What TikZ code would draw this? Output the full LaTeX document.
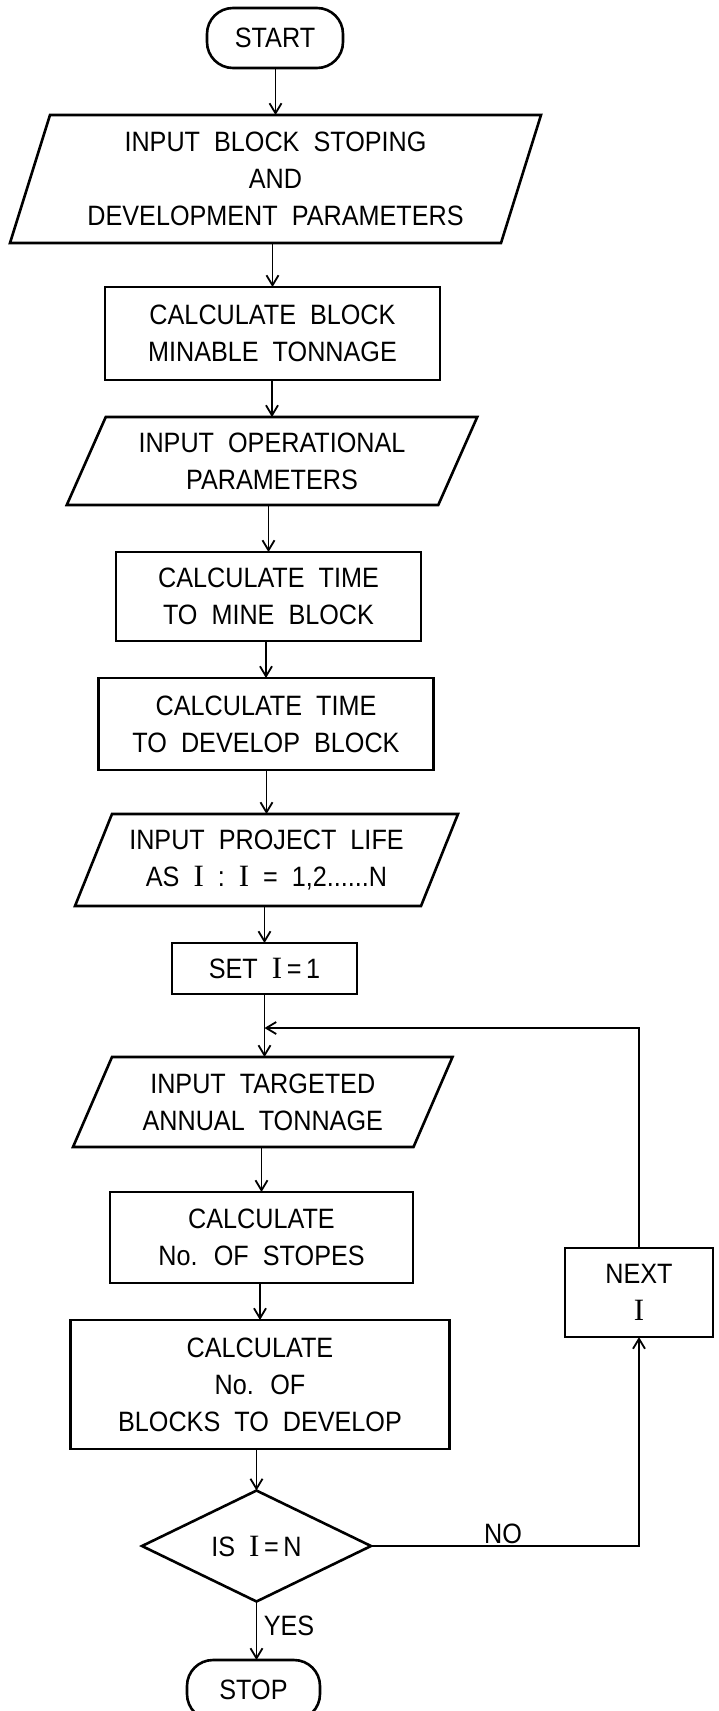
\documentclass[tikz,border=0pt]{standalone}
\usepackage{fontspec}
\setmainfont[FakeStretch=0.9,WordSpace=2]{Liberation Sans}
\newfontfamily\serifface{Liberation Serif}
\usetikzlibrary{arrows.meta,shapes.geometric}

% lettering used in every box
\newcommand\flowfont{\fontsize{28}{37}\selectfont}
% the loop index is lettered as a serifed capital I
\newcommand\romI{{\serifface\fontsize{31}{37}\selectfont I}}
% parallelogram round an input node: #1 node name, #2 half of the slant
\newcommand\ioframe[2]{%
  \draw[frame] ([xshift=#2]#1.north west) -- ([xshift=#2]#1.north east)
    -- ([xshift=-#2]#1.south east) -- ([xshift=-#2]#1.south west) -- cycle;}

\tikzset{
  frame/.style={draw, line width=2.6pt, line join=miter},
  procbox/.style={frame, rectangle, inner sep=0pt, outer sep=0pt,
    align=center, font=\flowfont},
  iobox/.style={rectangle, inner sep=0pt, outer sep=0pt,
    align=center, font=\flowfont},
  termbox/.style={procbox, rounded corners=26pt},
  decision/.style={frame, diamond, inner sep=0pt, outer sep=0pt,
    font=\flowfont},
  arr/.style={line width=1.8pt,
    -{Straight Barb[length=10pt,width=12pt]}},
  tag/.style={font=\flowfont, inner sep=0pt}
}

\begin{document}
\begin{tikzpicture}[x=1pt,y=-1pt]
  \fill[white] (0,0) rectangle (719,1711);
  \clip (0,0) rectangle (719,1711);

  % main column
  \node[termbox, minimum width=136, minimum height=60] (start) at (275,38) {START};

  \node[iobox, minimum width=491, minimum height=128] (inblock) at (275.5,179)
    {INPUT BLOCK STOPING\\AND\\DEVELOPMENT PARAMETERS};
  \ioframe{inblock}{20}

  \node[procbox, minimum width=335, minimum height=93] (tonnage) at (272.5,333.5)
    {CALCULATE BLOCK\\MINABLE TONNAGE};

  \node[iobox, minimum width=371.5, minimum height=88] (inoper) at (272,461)
    {INPUT OPERATIONAL\\PARAMETERS};
  \ioframe{inoper}{19.5}

  \node[procbox, minimum width=305, minimum height=89] (mine) at (268.5,596.5)
    {CALCULATE TIME\\TO MINE BLOCK};

  \node[procbox, minimum width=334.5, minimum height=92] (develop) at (266,724)
    {CALCULATE TIME\\TO DEVELOP BLOCK};

  \node[iobox, minimum width=346, minimum height=92] (inlife) at (266.5,860)
    {INPUT PROJECT LIFE\\AS \romI\ : \romI\ = 1,2......N};
  \ioframe{inlife}{18.5}

  \node[procbox, minimum width=185, minimum height=51] (setI) at (264.5,968.5)
    {SET \romI\,=\,1};

  \node[iobox, minimum width=340.5, minimum height=90] (intarget) at (262.75,1102)
    {INPUT TARGETED\\ANNUAL TONNAGE};
  \ioframe{intarget}{19.5}

  \node[procbox, minimum width=303, minimum height=91] (stopes) at (261.5,1237.5)
    {CALCULATE\\No. OF STOPES};

  \node[procbox, minimum width=378.5, minimum height=129] (blocks) at (260,1384.5)
    {CALCULATE\\No. OF\\BLOCKS TO DEVELOP};

  \node[decision, minimum width=229, minimum height=108] (test) at (256.5,1546)
    {IS \romI\,=\,N};

  \node[termbox, minimum width=133, minimum height=60] (stop) at (253.5,1690) {STOP};

  % loop box
  \node[procbox, minimum width=148, minimum height=89] (next) at (639,1292.5)
    {NEXT\\\romI};

  \coordinate (join) at (setI.south |- 0,1028);

  % connectors
  \draw[arr] (start.south -| inblock.north) -- (inblock.north);
  \draw[arr] (inblock.south -| tonnage.north) -- (tonnage.north);
  \draw[arr] (tonnage.south -| inoper.north) -- (inoper.north);
  \draw[arr] (inoper.south -| mine.north) -- (mine.north);
  \draw[arr] (mine.south -| develop.north) -- (develop.north);
  \draw[arr] (develop.south -| inlife.north) -- (inlife.north);
  \draw[arr] (inlife.south -| setI.north) -- (setI.north);
  \draw[arr] (setI.south) -- (setI.south |- intarget.north);
  \draw[arr] (intarget.south -| stopes.north) -- (stopes.north);
  \draw[arr] (stopes.south -| blocks.north) -- (blocks.north);
  \draw[arr] (blocks.south -| test.north) -- (test.north);
  \draw[arr] (test.south) -- (test.south |- stop.north);
  \draw[arr] (test.east) -| (next.south);
  \draw[arr] (next.north) |- (join);

  % branch labels
  \node[tag] (nolabel) at (503,1534) {NO};
  \node[tag] (yeslabel) at (289,1626) {YES};
\end{tikzpicture}
\end{document}
